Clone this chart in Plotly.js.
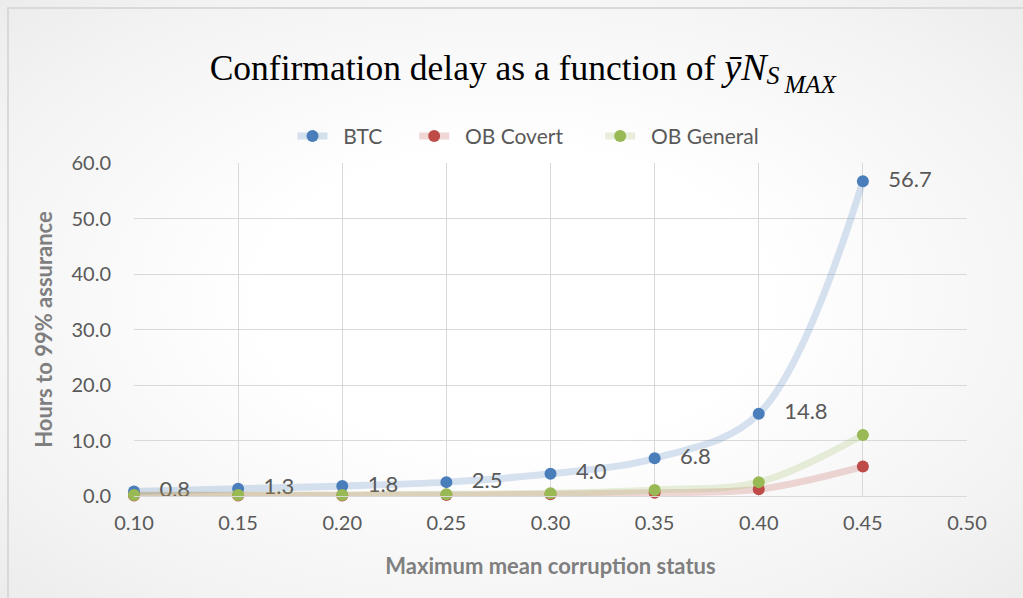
<!DOCTYPE html>
<html>
<head>
<meta charset="utf-8">
<script src="https://cdn.plot.ly/plotly-3.0.1.min.js"></script>
<style>
  html, body { margin:0; padding:0; width:1023px; height:598px; overflow:hidden; }
  body { background: radial-gradient(ellipse at 50% 50%, #ffffff 35%, #f3f3f3 80%, #ececec 100%); }
  #frame { position:absolute; left:7px; top:7px; width:1030px; height:600px;
           border-left:2px solid #d9d9d9; border-top:2px solid #d9d9d9; box-sizing:border-box; }
  #chart { position:absolute; left:0; top:0; width:1023px; height:598px; }
</style>
</head>
<body>
<div id="frame"></div>
<div id="chart"></div>
<script>
// Data
const xValues = [0.10, 0.15, 0.20, 0.25, 0.30, 0.35, 0.40, 0.45];
const btc = [0.8, 1.3, 1.8, 2.5, 4.0, 6.8, 14.8, 56.7];
const obCovert = [0.1, 0.1, 0.1, 0.2, 0.3, 0.6, 1.2, 5.3];
const obGeneral = [0.2, 0.2, 0.2, 0.3, 0.5, 1.1, 2.5, 11.0];
const seriesNames = ['BTC', 'OB Covert', 'OB General'];
const titlePlain = 'Confirmation delay as a function of ';
const xTitle = 'Maximum mean corruption status';
const yTitle = 'Hours to 99% assurance';

const titleText = titlePlain +
  '<span style="font-size:38px"><i>\u0233N</i></span>' +
  '<span style="font-size:26px;baseline-shift:-4px"><i>S</i></span>' +
  '<span style="font-size:25px;baseline-shift:-13px"><i>\u2009MAX</i></span>';

const FONT = 'Lato, "Open Sans", sans-serif';
const GRAY = '#595959';
const NB = '\u00a0';

function series(name, y, color, lineColor, withLabels, trail) {
  const t = {
    type: 'scatter',
    mode: withLabels ? 'lines+markers+text' : 'lines+markers',
    name: NB + NB + name + NB.repeat(trail),
    x: xValues,
    y: y,
    line: { shape: 'spline', smoothing: 1, width: 7, color: lineColor },
    marker: { size: 12, color: color },
    cliponaxis: false
  };
  if (withLabels) {
    t.text = y.map(v => NB + NB + NB + v.toFixed(1));
    t.textposition = 'middle right';
    t.textfont = { family: FONT, size: 22, color: GRAY };
  }
  return t;
}

const data = [
  series(seriesNames[0], btc, '#4a7ebb', 'rgba(79,129,189,0.22)', true, 5),
  series(seriesNames[1], obCovert, '#be4b48', 'rgba(192,80,77,0.22)', false, 6),
  series(seriesNames[2], obGeneral, '#98b954', 'rgba(155,187,89,0.22)', false, 5)
];

const layout = {
  width: 1023, height: 598,
  paper_bgcolor: 'rgba(0,0,0,0)',
  plot_bgcolor: 'rgba(0,0,0,0)',
  margin: { l: 134, r: 56, t: 163, b: 102, pad: 0 },
  font: { family: FONT, color: GRAY },
  title: {
    text: titleText,
    font: { family: '"Liberation Serif", "DejaVu Serif", serif', size: 35.5, color: '#000000' },
    x: 0.511, xanchor: 'center', xref: 'container',
    y: 0.887, yanchor: 'middle', yref: 'container'
  },
  showlegend: true,
  legend: {
    orientation: 'h',
    x: 0.4898, xanchor: 'center', xref: 'paper',
    y: 1.08, yanchor: 'middle',
    font: { family: FONT, size: 21, color: GRAY },
    tracegroupgap: 0,
    bgcolor: 'rgba(0,0,0,0)'
  },
  xaxis: {
    range: [0.10, 0.50],
    dtick: 0.05, tick0: 0.10,
    tickformat: '.2f',
    showgrid: true, gridcolor: '#d9d9d9', gridwidth: 1,
    zeroline: false,
    showline: true, linecolor: '#d9d9d9', linewidth: 1,
    ticks: 'outside', ticklen: 9, tickcolor: 'rgba(0,0,0,0)',
    tickfont: { family: FONT, size: 20, color: GRAY },
    title: { text: xTitle, font: { family: FONT, size: 22, color: '#7f7f7f', weight: 'bold' }, standoff: 25 },
    fixedrange: true
  },
  yaxis: {
    range: [0, 60],
    dtick: 10,
    tickformat: '.1f',
    showgrid: true, gridcolor: '#d9d9d9', gridwidth: 1,
    zeroline: false,
    showline: false,
    ticks: 'outside', ticklen: 18, tickcolor: 'rgba(0,0,0,0)',
    tickfont: { family: FONT, size: 20, color: GRAY },
    title: { text: yTitle, font: { family: FONT, size: 22, color: '#7f7f7f', weight: 'bold' }, standoff: 12 },
    fixedrange: true
  }
};

Plotly.newPlot('chart', data, layout, { displayModeBar: false, staticPlot: true });
</script>
</body>
</html>
